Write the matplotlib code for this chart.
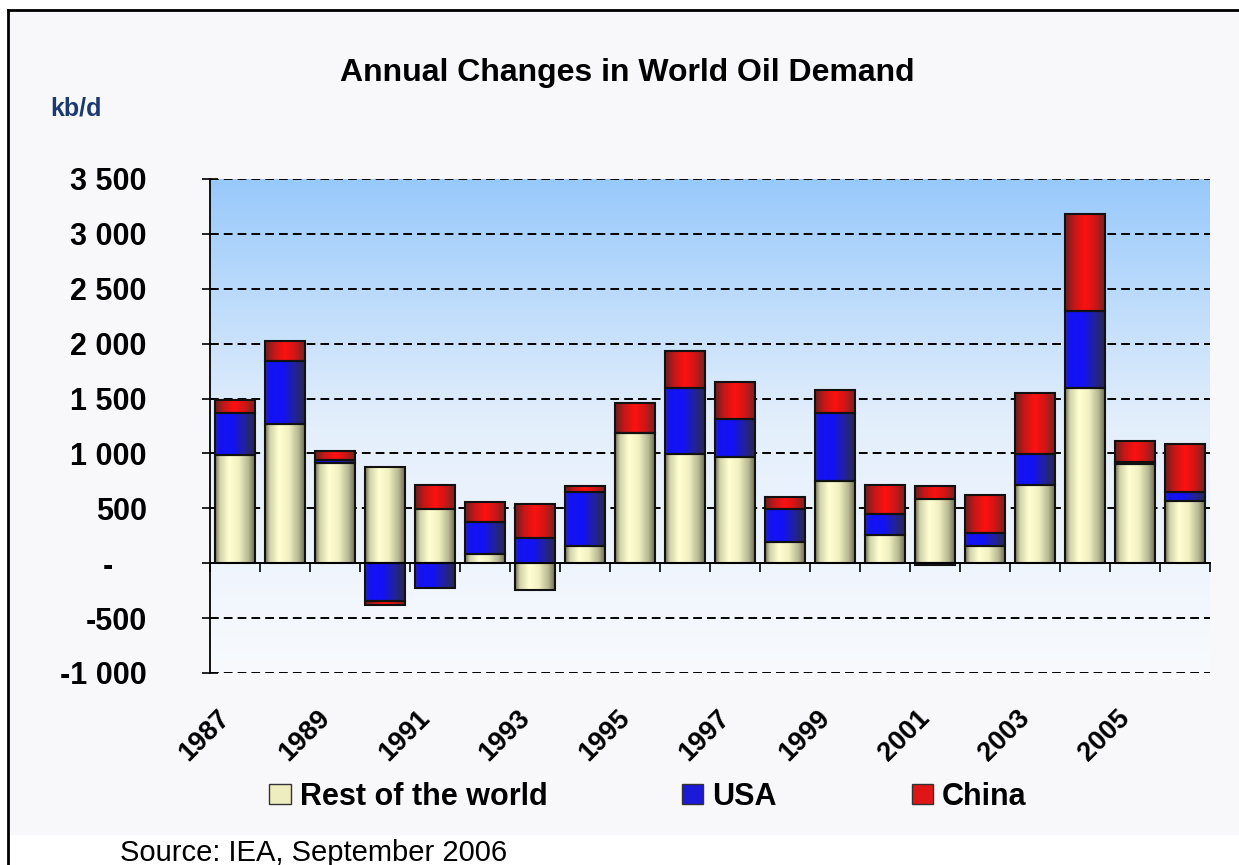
import numpy as np
import matplotlib
matplotlib.use("Agg")
import matplotlib.pyplot as plt
from matplotlib.colors import LinearSegmentedColormap
from matplotlib.patches import Patch, Rectangle
from matplotlib.lines import Line2D
import matplotlib.transforms as mtransforms
from matplotlib.ticker import FuncFormatter

# ---------------- data ----------------
years = list(range(1987, 2007))
rest_of_world = [985, 1267, 915, 873, 491, 82, -248, 158, 1182, 997,
                 970, 194, 748, 258, 582, 158, 715, 1594, 900, 564]
usa = [379, 575, 24, -342, -227, 297, 227, 493, 0, 603,
       348, 297, 616, 187, -18, 121, 282, 703, 24, 84]
china = [127, 179, 82, -37, 221, 175, 312, 55, 281, 330,
         330, 112, 218, 264, 124, 345, 551, 885, 191, 434]
series_names = ["Rest of the world", "USA", "China"]
label_years = [str(y) for y in years[::2]]
y_ticks = list(range(-1000, 3501, 500))

title = "Annual Changes in World Oil Demand"
unit_label = "kb/d"
source_text = "Source: IEA, September 2006"

# ---------------- style ----------------
plt.rcParams['font.family'] = ['Liberation Sans', 'DejaVu Sans']

W, H = 1239, 865
fig = plt.figure(figsize=(W / 100, H / 100), dpi=100)
fig.patch.set_facecolor('white')

# light chart area and frame lines
fig.add_artist(Rectangle((8 / W, (H - 835) / H), 1 - 8 / W, (835 - 10) / H,
                         transform=fig.transFigure, facecolor='#F8F8FA',
                         edgecolor='none', zorder=0))
fig.add_artist(Line2D([8 / W, 1], [1 - 10 / H, 1 - 10 / H], color='black',
                      lw=2, transform=fig.transFigure))
fig.add_artist(Line2D([8 / W, 8 / W], [0, 1 - 10 / H], color='black',
                      lw=2, transform=fig.transFigure))

ax = fig.add_axes([210 / W, (H - 673) / H, 1000 / W, 494 / H])
ax.set_facecolor('none')

ymin, ymax = -1000, 3500
n = len(years)
x = np.arange(n)

# background vertical gradient
bg_cmap = LinearSegmentedColormap.from_list('bg', ['#F8FAFE', '#E4EFFC', '#98C9FB'])
vgrad = np.linspace(0, 1, 256).reshape(-1, 1)
ax.imshow(vgrad, extent=(0, 1, 0, 1), transform=ax.transAxes, origin='lower',
          cmap=bg_cmap, aspect='auto', zorder=-2, interpolation='bilinear')

# bar shading colormaps (horizontal gradient)
cmaps = [
    LinearSegmentedColormap.from_list('row', [(0, '#6E6E52'), (0.12, '#D2D2AA'),
                                              (0.35, '#FFFFD2'), (0.6, '#F0F0C2'),
                                              (0.85, '#B4B490'), (1, '#6E6E56')]),
    LinearSegmentedColormap.from_list('usa', [(0, '#2828A8'), (0.1, '#1414F2'),
                                              (0.45, '#1212F5'), (0.75, '#22229A'),
                                              (1, '#282850')]),
    LinearSegmentedColormap.from_list('chn', [(0, '#6A1E1E'), (0.22, '#C21818'),
                                              (0.5, '#FF1010'), (0.75, '#D01616'),
                                              (1, '#782222')]),
]
legend_colors = ['#EDEDC0', '#1A1AD8', '#E01616']
hgrad = np.linspace(0, 1, 128).reshape(1, -1)

pos_base = np.zeros(n)
neg_base = np.zeros(n)
for vals, cmap in zip([rest_of_world, usa, china], cmaps):
    v = np.array(vals, dtype=float)
    bottoms = np.where(v >= 0, pos_base, neg_base)
    bars = ax.bar(x, v, width=0.8, bottom=bottoms, facecolor='none',
                  edgecolor='#111111', linewidth=1.5, zorder=3)
    for patch in bars.patches:
        h = patch.get_height()
        if h == 0:
            continue
        x0 = patch.get_x()
        w = patch.get_width()
        y0 = patch.get_y()
        im = ax.imshow(hgrad, extent=(x0, x0 + w, min(y0, y0 + h), max(y0, y0 + h)),
                       cmap=cmap, aspect='auto', zorder=2.5, interpolation='bilinear')
        im.set_clip_path(patch)
    pos_base += np.where(v > 0, v, 0)
    neg_base += np.where(v < 0, v, 0)

ax.set_xlim(-0.5, n - 0.5)
ax.set_ylim(ymin, ymax)
ax.set_aspect('auto')

# y axis
ax.set_yticks(y_ticks)


def yfmt(v, pos):
    if v == 0:
        return '-\u00a0\u00a0\u00a0\u00a0'
    s = f"{abs(int(v)):,}".replace(',', ' ')
    return ('-' if v < 0 else '') + s


ax.yaxis.set_major_formatter(FuncFormatter(yfmt))
ax.tick_params(axis='y', direction='inout', length=11, width=1.2, pad=40,
               labelsize=22)
for lbl in ax.get_yticklabels():
    lbl.set_fontweight('bold')
ax.yaxis.grid(True, color='black', linestyle=(0, (4.5, 2.6)), linewidth=1.4)
ax.set_axisbelow(True)

for s in ['top', 'right', 'bottom']:
    ax.spines[s].set_visible(False)
ax.spines['left'].set_linewidth(1.3)

# x labels (every other year)
ax.set_xticks(x[::2], labels=label_years)
ax.tick_params(axis='x', length=0, pad=30, labelsize=19.5, labelrotation=45)
offset = mtransforms.ScaledTranslation(-9 / 100, 0, fig.dpi_scale_trans)
for lbl in ax.get_xticklabels():
    lbl.set_ha('right')
    lbl.set_va('center')
    lbl.set_rotation_mode('anchor')
    lbl.set_fontweight('bold')
    lbl.set_transform(lbl.get_transform() + offset)

# zero line with category boundary ticks
zero_loc = (0 - ymin) / (ymax - ymin)
sec = ax.secondary_xaxis(zero_loc)
sec.set_xticks(np.arange(-0.5, n, 1.0))
sec.tick_params(axis='x', direction='out', length=6.5, width=1.2,
                labelbottom=False, labeltop=False)
sec.spines['bottom'].set_linewidth(1.4)
sec.set_zorder(4)

# texts
fig.text(627 / W, (H - 81) / H, title, ha='center', va='baseline',
         fontsize=23, fontweight='bold')
fig.text(50 / W, (H - 115) / H, unit_label, ha='left', va='baseline',
         fontsize=18, fontweight='bold', color='#1B3A70')
fig.text(120 / W, (H - 861) / H, source_text, ha='left', va='baseline',
         fontsize=21)

# legend
handles = [Patch(facecolor=c, edgecolor='#333333', linewidth=1.0) for c in legend_colors]
fig.legend(handles, series_names, loc='center', bbox_to_anchor=(648 / W, (H - 797) / H),
           ncol=3, frameon=False, prop={'weight': 'bold', 'size': 22},
           handlelength=0.7, handleheight=0.65, handletextpad=0.3,
           columnspacing=4.4, borderpad=0, borderaxespad=0)

fig.savefig('out.png', dpi=100)
